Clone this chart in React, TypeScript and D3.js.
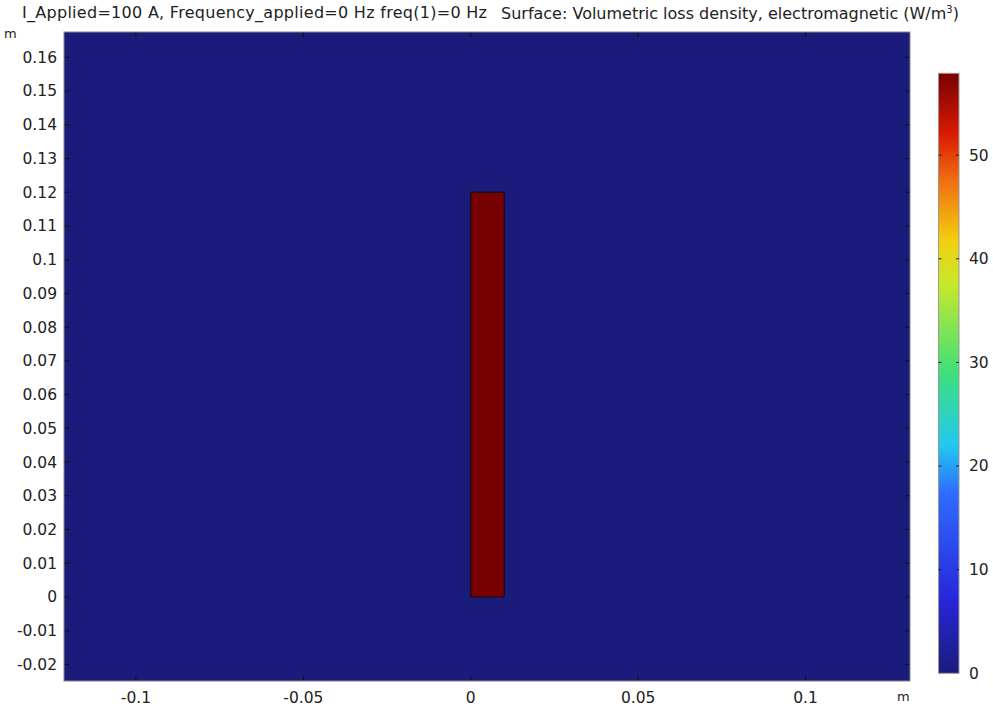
import React from "react";
import * as d3 from "d3";

// geometry of the plotted domain (m)
const xDomain = [-0.1215, 0.1312];
const yDomain = [-0.0249, 0.1675];
const xTicks = [-0.1, -0.05, 0, 0.05, 0.1];
const yTicks = [-0.02, -0.01, 0, 0.01, 0.02, 0.03, 0.04, 0.05, 0.06, 0.07, 0.08, 0.09, 0.1, 0.11, 0.12, 0.13, 0.14, 0.15, 0.16];

// conductor cross-section and its loss density
const conductor = { x0: 0, x1: 0.01, y0: 0, y1: 0.12, value: 57.9 };
const backgroundValue = 0;

// colour legend
const colorRange = [0, 57.9];
const colorTicks = [0, 10, 20, 30, 40, 50];
const colorStops = [0, 0.12, 0.3, 0.38, 0.5, 0.65, 0.72, 0.82, 0.9, 1];
const colorValues = ["#1b1b7b", "#2626d8", "#2f6cff", "#23c8f0", "#3de07a", "#c8e82a", "#f2d010", "#f07010", "#d81a00", "#780000"];

const margin = { left: 64, top: 32, right: 83, bottom: 28 };
const W = 993;
const H = 709;
const font = "DejaVu Sans, sans-serif";

export default function App() {
  const x = d3.scaleLinear().domain(xDomain).range([margin.left, W - margin.right]);
  const y = d3.scaleLinear().domain(yDomain).range([H - margin.bottom, margin.top]);

  const cScale = d3
    .scaleLinear<string>()
    .domain(colorStops.map((s) => colorRange[0] + s * (colorRange[1] - colorRange[0])))
    .range(colorValues)
    .interpolate(d3.interpolateRgb);

  const cb = { x: 938.5, w: 20.5, top: 73.3, bottom: 673.3 };
  const cy = d3.scaleLinear().domain(colorRange).range([cb.bottom, cb.top]);

  const [px0, px1] = x.range();
  const [py1, py0] = y.range();
  const tick = 5;
  // plain hyphen minus, like the original
  const fmt = (v: number) => String(+v.toFixed(3));

  return (
    <svg width={W} height={H} style={{ position: "absolute", left: 0, top: 0, background: "#fff" }}>
      <defs>
        <linearGradient id="cbar" x1="0" y1="1" x2="0" y2="0">
          {colorStops.map((s, i) => (
            <stop key={i} offset={s} stopColor={colorValues[i]} />
          ))}
        </linearGradient>
      </defs>

      <text x={22} y={18} fontFamily={font} fontSize={16} fill="#222" textLength={465}>
        I_Applied=100 A, Frequency_applied=0 Hz freq(1)=0 Hz
      </text>
      <text x={501} y={19} fontFamily={font} fontSize={16} fill="#222">
        Surface: Volumetric loss density, electromagnetic (W/m
        <tspan dy={-6} fontSize={10}>3</tspan>
        <tspan dy={6}>)</tspan>
      </text>

      <rect x={px0} y={py0} width={px1 - px0} height={py1 - py0} fill={cScale(backgroundValue)} />
      <rect
        x={x(conductor.x0)}
        y={y(conductor.y1)}
        width={x(conductor.x1) - x(conductor.x0)}
        height={y(conductor.y0) - y(conductor.y1)}
        fill={cScale(conductor.value)}
        stroke="#111"
        strokeWidth={1.2}
      />

      {xTicks.map((t) => (
        <g key={"x" + t}>
          <line x1={x(t)} x2={x(t)} y1={py1} y2={py1 - tick} stroke="#111" />
          <line x1={x(t)} x2={x(t)} y1={py0} y2={py0 + tick} stroke="#111" />
          <text x={x(t)} y={py1 + 22} textAnchor="middle" fontFamily={font} fontSize={15.5} fill="#222">
            {fmt(t)}
          </text>
        </g>
      ))}
      {yTicks.map((t) => (
        <g key={"y" + t}>
          <line x1={px0} x2={px0 + tick} y1={y(t)} y2={y(t)} stroke="#111" />
          <line x1={px1} x2={px1 - tick} y1={y(t)} y2={y(t)} stroke="#111" />
          <text x={px0 - 7} y={y(t)} dy="0.35em" textAnchor="end" fontFamily={font} fontSize={15.5} fill="#222">
            {fmt(t)}
          </text>
        </g>
      ))}
      <rect x={px0} y={py0} width={px1 - px0} height={py1 - py0} fill="none" stroke="#888" strokeWidth={1} />
      <text x={4} y={38} fontFamily={font} fontSize={13} fill="#222">m</text>
      <text x={897} y={701} fontFamily={font} fontSize={13} fill="#222">m</text>

      <rect x={cb.x} y={cb.top} width={cb.w} height={cb.bottom - cb.top} fill="url(#cbar)" stroke="#999" strokeWidth={1} />
      {colorTicks.map((t) => (
        <g key={"c" + t}>
          {t > 0 && (
            <>
              <line x1={cb.x} x2={cb.x + 3} y1={cy(t)} y2={cy(t)} stroke="#222" />
              <line x1={cb.x + cb.w} x2={cb.x + cb.w - 3} y1={cy(t)} y2={cy(t)} stroke="#222" />
            </>
          )}
          <text x={969} y={cy(t)} dy="0.35em" fontFamily={font} fontSize={15.5} fill="#222">
            {t}
          </text>
        </g>
      ))}
    </svg>
  );
}
